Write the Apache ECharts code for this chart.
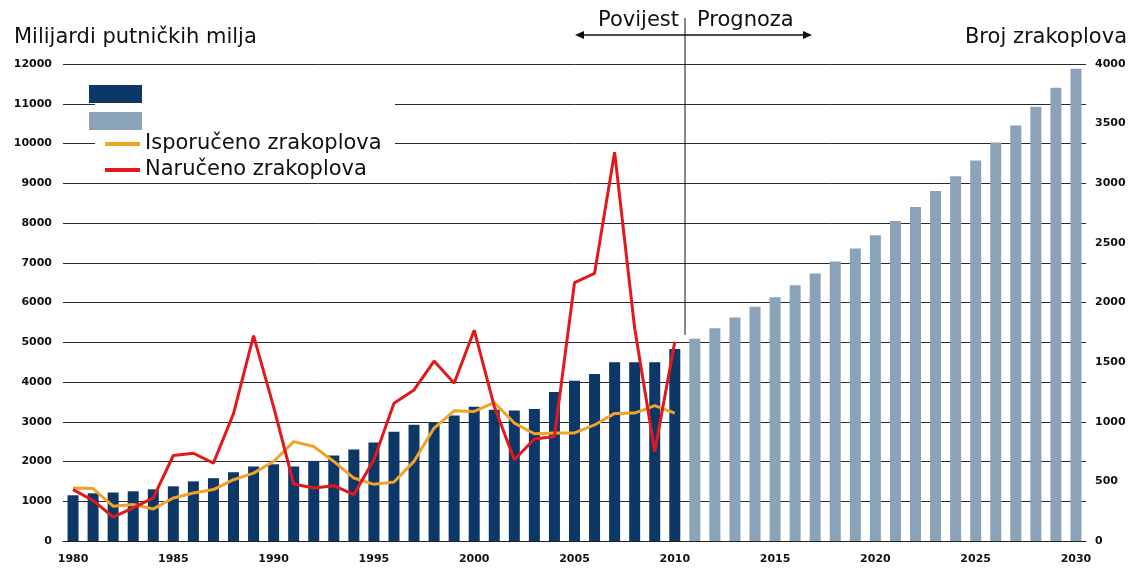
<!DOCTYPE html>
<html>
<head>
	<meta charset="utf-8">
	<title>Putnicke milje i zrakoplovi</title>
	<script src="https://cdn.jsdelivr.net/npm/echarts@6/dist/echarts.min.js"></script>
</head>
<body style="margin:0;background:#fff;">
	<div id="main" style="width:1135px;height:572px;"></div>
</body>
<script type="text/javascript">
// godine (kategorije)
var years = ['1980','1981','1982','1983','1984','1985','1986','1987','1988','1989',
    '1990','1991','1992','1993','1994','1995','1996','1997','1998','1999',
    '2000','2001','2002','2003','2004','2005','2006','2007','2008','2009',
    '2010','2011','2012','2013','2014','2015','2016','2017','2018','2019',
    '2020','2021','2022','2023','2024','2025','2026','2027','2028','2029','2030']

// milijardi putnickih milja, povijest 1980-2010
var historyMiles = [1150,1200,1220,1250,1300,1375,1500,1580,1730,1875,
    1930,1875,2015,2150,2300,2475,2750,2925,2980,3160,
    3375,3300,3285,3320,3750,4030,4200,4500,4500,4500,4830]
// prognoza 2011-2030
var forecastMiles = [5085,5355,5625,5895,6130,6435,6730,7030,7360,7690,
    8050,8405,8805,9175,9570,10025,10455,10925,11400,11880]

// broj zrakoplova 1980-2010 (desna os)
var delivered = [444,440,292,306,269,361,403,431,514,569,
    667,833,792,667,528,475,495,668,947,1092,
    1086,1161,989,899,905,906,973,1070,1073,1135,1073]
var ordered = [431,340,200,278,361,717,736,653,1069,1722,
    1125,478,444,464,389,681,1156,1267,1509,1323,
    1768,1128,682,855,877,2167,2245,3261,1784,750,1671]

var leftTicks = {min:0, max:12000, interval:1000}
var rightTicks = {min:0, max:4000, interval:500}

var font = 'DejaVu Sans'

//povijest i prognoza idu kao dvije serije preko istih kategorija
var histData = []
var foreData = []
for(var i=0;i<years.length;i++){
    if(i<historyMiles.length){
        histData.push(historyMiles[i])
        foreData.push('-')
    }else{
        histData.push('-')
        foreData.push(forecastMiles[i-historyMiles.length])
    }
}

//bez separatora tisucica
function plain(v){ return String(v) }

var myChart = echarts.init(document.getElementById('main'))

var option = {
    animation:false,
    textStyle:{fontFamily:font},
    title:[
        {text:'Milijardi putničkih milja',left:9,top:22,
         textStyle:{fontFamily:font,fontSize:21,fontWeight:'normal',color:'#111'}},
        {text:'Broj zrakoplova',right:3,top:22,
         textStyle:{fontFamily:font,fontSize:21,fontWeight:'normal',color:'#111'}}
    ],
    grid:{left:63,right:49,top:64,bottom:31},
    legend:[
        {
            data:['Povijest','Prognoza'],
            orient:'vertical',left:89,top:85,padding:0,
            itemWidth:53,itemHeight:18,itemGap:9,
            icon:'rect',selectedMode:false,
            formatter:function(){ return '' }
        },
        {
            data:['Isporučeno zrakoplova','Naručeno zrakoplova'],
            orient:'vertical',left:105,top:133,padding:0,
            itemWidth:35,itemHeight:4,itemGap:4,
            icon:'rect',selectedMode:false,
            textStyle:{fontFamily:font,fontSize:21,color:'#111',lineHeight:22}
        }
    ],
    xAxis:{
        type:'category',
        data:years,
        axisLine:{lineStyle:{color:'#222',width:1}},
        axisTick:{interval:0,length:5,lineStyle:{color:'#222'}},
        axisLabel:{interval:4,fontFamily:font,fontWeight:'bold',fontSize:11,color:'#111',margin:13}
    },
    yAxis:[
        {
            type:'value',
            min:leftTicks.min,max:leftTicks.max,interval:leftTicks.interval,
            axisLine:{show:false},axisTick:{show:false},
            axisLabel:{fontFamily:font,fontWeight:'bold',fontSize:11,color:'#111',margin:11,formatter:plain},
            splitLine:{lineStyle:{color:'#2a2a2a',width:1}}
        },
        {
            type:'value',position:'right',
            min:rightTicks.min,max:rightTicks.max,interval:rightTicks.interval,
            axisLine:{show:false},axisTick:{show:false},
            axisLabel:{fontFamily:font,fontWeight:'bold',fontSize:11,color:'#111',margin:9,formatter:plain},
            splitLine:{show:false}
        }
    ],
    series:[
        {
            name:'Povijest',type:'bar',data:histData,
            barWidth:11,barGap:'-100%',
            itemStyle:{color:'#0c3766'}
        },
        {
            name:'Prognoza',type:'bar',data:foreData,
            barWidth:11,barGap:'-100%',
            itemStyle:{color:'#8aa3b8'}
        },
        {
            name:'Isporučeno zrakoplova',type:'line',yAxisIndex:1,data:delivered,
            showSymbol:false,symbol:'none',z:4,
            lineStyle:{color:'#f0a326',width:3},itemStyle:{color:'#f0a326'}
        },
        {
            name:'Naručeno zrakoplova',type:'line',yAxisIndex:1,data:ordered,
            showSymbol:false,symbol:'none',z:5,
            lineStyle:{color:'#e2191c',width:3},itemStyle:{color:'#e2191c'}
        }
    ]
}

myChart.setOption(option)

// granica povijest / prognoza, racuna se iz osi
var xa = myChart.convertToPixel({xAxisIndex:0},years[historyMiles.length-1])
var xb = myChart.convertToPixel({xAxisIndex:0},years[historyMiles.length])
var sepX = Math.round((xa+xb)/2)
var sepBottom = myChart.convertToPixel({yAxisIndex:0},forecastMiles[0])-4
var arrowY = 35
var aL = sepX-110
var aR = sepX+127

myChart.setOption({
    graphic:[
        //bijela podloga legende
        {type:'rect',shape:{x:95,y:79,width:300,height:100},style:{fill:'#fff'},z:3},
        {type:'line',shape:{x1:sepX,y1:18,x2:sepX,y2:sepBottom},style:{stroke:'#111',lineWidth:1},z:6},
        {type:'line',shape:{x1:aL+6,y1:arrowY,x2:aR-6,y2:arrowY},style:{stroke:'#111',lineWidth:1.5},z:6},
        {type:'polygon',shape:{points:[[aL,arrowY],[aL+9,arrowY-4],[aL+9,arrowY+4]]},style:{fill:'#111'},z:6},
        {type:'polygon',shape:{points:[[aR,arrowY],[aR-9,arrowY-4],[aR-9,arrowY+4]]},style:{fill:'#111'},z:6},
        {type:'text',x:sepX-6,y:21,style:{text:'Povijest',fontFamily:font,fontSize:21,fill:'#111',align:'right',verticalAlign:'middle'},z:6},
        {type:'text',x:sepX+12,y:21,style:{text:'Prognoza',fontFamily:font,fontSize:21,fill:'#111',align:'left',verticalAlign:'middle'},z:6}
    ]
})
</script>
</html>
